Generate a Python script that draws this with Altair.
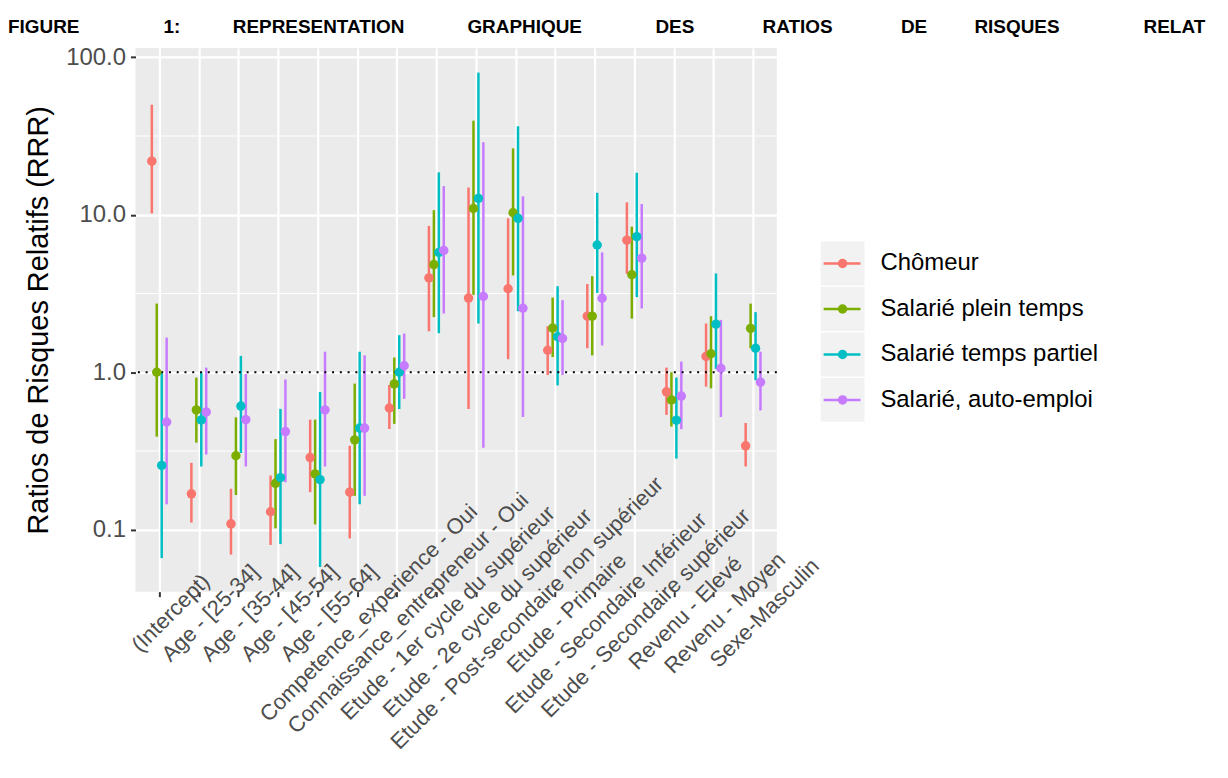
import json
import altair as alt
import pandas as pd

# ---------------- data ----------------
categories = [
    "(Intercept)", "Age - [25-34]", "Age - [35-44]", "Age - [45-54]", "Age - [55-64]",
    "Competence_experience - Oui", "Connaissance_entrepreneur - Oui",
    "Etude - 1er cycle du supérieur", "Etude - 2e cycle du supérieur",
    "Etude - Post-secondaire non supérieur", "Etude - Primaire",
    "Etude - Secondaire Inférieur", "Etude - Secondaire supérieur",
    "Revenu - Elevé", "Revenu - Moyen", "Sexe-Masculin",
]
series_names = ["Chômeur", "Salarié plein temps", "Salarié temps partiel", "Salarié, auto-emploi"]
series_colors = ["#F8766D", "#7CAE00", "#00BFC4", "#C77CFF"]

chomeur_est = [21.9, 0.169, 0.109, 0.130, 0.287, 0.173, 0.593, 3.97, 2.96, 3.39, 1.38, 2.27, 6.9, 0.751, 1.26, 0.341]
chomeur_lo = [10.2, 0.111, 0.0695, 0.080, 0.173, 0.088, 0.436, 1.82, 0.584, 1.21, 0.96, 1.42, 4.22, 0.536, 0.81, 0.252]
chomeur_hi = [50.0, 0.266, 0.182, 0.221, 0.50, 0.341, 0.83, 8.5, 14.9, 9.5, 1.96, 3.63, 12.0, 1.07, 2.04, 0.476]

plein_est = [1.0, 0.576, 0.295, 0.197, 0.226, 0.372, 0.843, 4.83, 10.96, 10.3, 1.91, 2.27, 4.16, 0.667, 1.31, 1.90]
plein_lo = [0.39, 0.357, 0.166, 0.102, 0.108, 0.164, 0.47, 2.24, 3.1, 4.12, 1.25, 1.28, 2.19, 0.452, 0.79, 1.42]
plein_hi = [2.73, 0.925, 0.517, 0.376, 0.50, 0.847, 1.24, 10.7, 39.6, 26.4, 2.98, 4.07, 8.4, 1.0, 2.27, 2.73]

partiel_est = [0.256, 0.498, 0.61, 0.214, 0.208, 0.442, 1.0, 5.77, 12.7, 9.5, 1.68, 6.43, 7.26, 0.496, 2.02, 1.42]
partiel_lo = [0.066, 0.252, 0.307, 0.081, 0.058, 0.145, 0.584, 1.77, 2.04, 2.44, 0.825, 3.19, 3.0, 0.283, 1.05, 0.89]
partiel_hi = [1.0, 1.0, 1.27, 0.585, 0.75, 1.35, 1.72, 18.6, 80.0, 36.5, 3.52, 13.8, 18.5, 0.925, 4.24, 2.41]

auto_est = [0.483, 0.559, 0.50, 0.42, 0.576, 0.442, 1.10, 5.94, 3.03, 2.55, 1.64, 2.95, 5.3, 0.706, 1.06, 0.865]
auto_lo = [0.145, 0.30, 0.252, 0.20, 0.252, 0.164, 0.678, 2.36, 0.331, 0.52, 0.96, 1.48, 2.54, 0.435, 0.52, 0.572]
auto_hi = [1.66, 1.07, 0.975, 0.90, 1.35, 1.28, 1.76, 15.2, 28.9, 13.1, 2.87, 5.77, 11.7, 1.17, 2.15, 1.35]

y_ticks = [0.1, 1.0, 10.0, 100.0]
minor_breaks = [0.3162, 3.162, 31.62]
ref_line = [1.0]

title_words = ["FIGURE", "1:", "REPRESENTATION", "GRAPHIQUE", "DES", "RATIOS", "DE", "RISQUES", "RELAT"]
title_gaps = [16, 10, 12, 14, 13, 13, 9, 16]

# ---------------- table ----------------
est_all = [chomeur_est, plein_est, partiel_est, auto_est]
lo_all = [chomeur_lo, plein_lo, partiel_lo, auto_lo]
hi_all = [chomeur_hi, plein_hi, partiel_hi, auto_hi]
dodge = 0.5
rows = []
for j, name in enumerate(series_names):
    off = (j - 1.5) * dodge / 4
    for i, cat in enumerate(categories):
        rows.append({"series": name, "cat": cat, "pos": i + off,
                     "est": est_all[j][i], "lo": lo_all[j][i], "hi": hi_all[j][i]})
df = pd.DataFrame(rows)

FONT = "Liberation Sans"
YTITLE = "Ratios de Risques Relatifs (RRR)"

xscale = alt.Scale(domain=[-0.6, len(categories) - 0.4], nice=False, zero=False)
yscale = alt.Scale(type="log", domain=[0.0404, 114.8], nice=False)
cscale = alt.Scale(domain=series_names, range=series_colors)

xaxis = alt.Axis(
    values=list(range(len(categories))),
    labelExpr=json.dumps(categories) + "[datum.value]",
    grid=True, gridColor="white", gridWidth=2.2,
    domain=False, ticks=True, tickColor="#333333", tickWidth=2, tickSize=5,
    labelAngle=-45, labelAlign="center", labelBaseline="top",
    labelPadding=9, labelOffset=4,
    labelFontSize=22, labelColor="#4D4D4D", labelFont=FONT, labelLimit=0,
    labelOverlap=False, labelBound=False, labelFlush=False, title=None,
)
yaxis = alt.Axis(
    values=y_ticks, format=".1f",
    grid=True, gridColor="white", gridWidth=2.2,
    domain=False, ticks=True, tickColor="#333333", tickWidth=2, tickSize=5,
    labelPadding=5, labelFontSize=24, labelColor="#4D4D4D", labelFont=FONT,
    title=YTITLE, titleFontSize=29, titleFontWeight="normal", titleColor="black",
    titleFont=FONT, titlePadding=12,
)

X = lambda f: alt.X(f, scale=xscale, axis=xaxis, title=None)
Y = lambda f: alt.Y(f, scale=yscale, axis=yaxis, title=YTITLE)

minor = alt.Chart(pd.DataFrame({"m": minor_breaks})).mark_rule(
    color="white", strokeWidth=1.1).encode(y=Y("m:Q"))

errbars = alt.Chart(df).mark_rule(strokeWidth=2.5).encode(
    x=X("pos:Q"), y=Y("lo:Q"), y2="hi:Q",
    color=alt.Color("series:N", scale=cscale, legend=None))

hline = alt.Chart(pd.DataFrame({"v": ref_line})).mark_rule(
    color="black", strokeWidth=1.8, strokeDash=[2, 5.8]).encode(y=Y("v:Q"))

points = alt.Chart(df).mark_circle(size=90, opacity=1).encode(
    x=X("pos:Q"), y=Y("est:Q"),
    color=alt.Color("series:N", scale=cscale, legend=None))

main = alt.layer(minor, errbars, hline, points)

# ---------------- legend (drawn as marks) ----------------
legdf = pd.DataFrame({"series": series_names})
ly = alt.Y("series:N", scale=alt.Scale(type="point", domain=series_names,
                                        range=[216.5, 353.5], padding=0), axis=None)
leg_base = alt.Chart(legdf)
leg_bg = leg_base.mark_square(size=1936, color="#F2F2F2", opacity=1).encode(
    y=ly, x=alt.value(710))
leg_line = leg_base.mark_rule(strokeWidth=2.5).encode(
    y=ly, x=alt.value(691), x2=alt.value(728),
    color=alt.Color("series:N", scale=cscale, legend=None))
leg_pt = leg_base.mark_circle(size=90, opacity=1).encode(
    y=ly, x=alt.value(710),
    color=alt.Color("series:N", scale=cscale, legend=None))
leg_txt = leg_base.mark_text(align="left", baseline="middle", fontSize=24,
                             font=FONT, color="black").encode(
    y=ly, x=alt.value(748), text="series:N")
legend = alt.layer(leg_bg, leg_line, leg_pt, leg_txt)

nb = "\u00a0"
title_text = title_words[0]
for w, g in zip(title_words[1:], title_gaps):
    title_text += nb * g + w

chart = alt.layer(main, legend).resolve_scale(y="independent").properties(
    width=644, height=546,
    background="white",
    autosize=alt.AutoSizeParams(type="none"),
    padding={"left": 128, "top": 38.5, "right": 445, "bottom": 177},
    title=alt.TitleParams(
        text=title_text, anchor="start", frame="group", dx=-128, dy=21, offset=14,
        fontSize=19, font=FONT,
        fontWeight="bold", color="black", baseline="alphabetic",
    ),
).configure_view(fill="#EBEBEB", stroke=None)

chart.save("out.html", embed_options={"renderer": "svg", "actions": False})
